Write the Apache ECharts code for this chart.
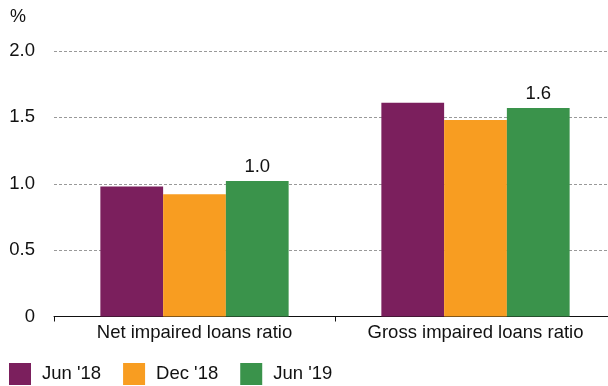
<!DOCTYPE html>
<html><head><meta charset="utf-8">
<script src="https://cdn.jsdelivr.net/npm/echarts@6/dist/echarts.min.js"></script>
<style>html,body{margin:0;padding:0;background:#fff;overflow:hidden}#c{width:616px;height:386px}</style>
</head><body><div id="c"></div>
<script>
const categories = ["Net impaired loans ratio", "Gross impaired loans ratio"];
const seriesNames = ["Jun '18", "Dec '18", "Jun '19"];
const jun18 = [0.98, 1.61];
const dec18 = [0.92, 1.48];
const jun19 = [1.02, 1.57];
const yTicks = [0, 0.5, 1.0, 1.5, 2.0];
const colors = ["#7b1f5d", "#f89d21", "#3a934b"];
const FONT = "Liberation Sans, Arial, Helvetica, sans-serif";

const chart = echarts.init(document.getElementById('c'), null, {renderer: 'canvas'});
const values = [jun18, dec18, jun19];
chart.setOption({
  animation: false,
  color: colors,
  textStyle: {fontFamily: FONT},
  grid: {left: 54, top: 51, right: 0, height: 265.5, containLabel: false},
  graphic: [{type: 'text', left: 10, top: 8, style: {text: '%', font: '18px ' + FONT, fill: '#111'}}],
  legend: {
    left: 9, top: 363, padding: 0, itemWidth: 22, itemHeight: 22, itemGap: 22,
    icon: 'rect',
    textStyle: {fontSize: 18.5, color: '#111', fontFamily: FONT, padding: [0, 0, 0, 6]},
    data: seriesNames
  },
  xAxis: {
    type: 'category', data: categories,
    axisLine: {lineStyle: {color: '#111', width: 1}},
    axisTick: {show: true, length: 5, interval: 0, lineStyle: {color: '#111'}},
    axisLabel: {fontSize: 18.5, color: '#111', margin: 7, interval: 0, fontFamily: FONT}
  },
  yAxis: {
    type: 'value', min: yTicks[0], max: yTicks[yTicks.length - 1], interval: 0.5,
    axisLine: {show: false}, axisTick: {show: false},
    axisLabel: {fontSize: 18.5, color: '#111', margin: 19, fontFamily: FONT,
      formatter: v => v === 0 ? '0' : v.toFixed(1)},
    splitLine: {lineStyle: {color: '#999', type: [3, 2], width: 1}}
  },
  series: seriesNames.map((n, i) => ({
    name: n, type: 'bar', data: values[i],
    barGap: '0%', barCategoryGap: '33%',
    label: i === 2 ? {show: true, position: 'top', distance: 5, fontSize: 18.5, color: '#111',
      fontFamily: FONT, formatter: p => p.value.toFixed(1)} : {show: false}
  }))
});
</script></body></html>
